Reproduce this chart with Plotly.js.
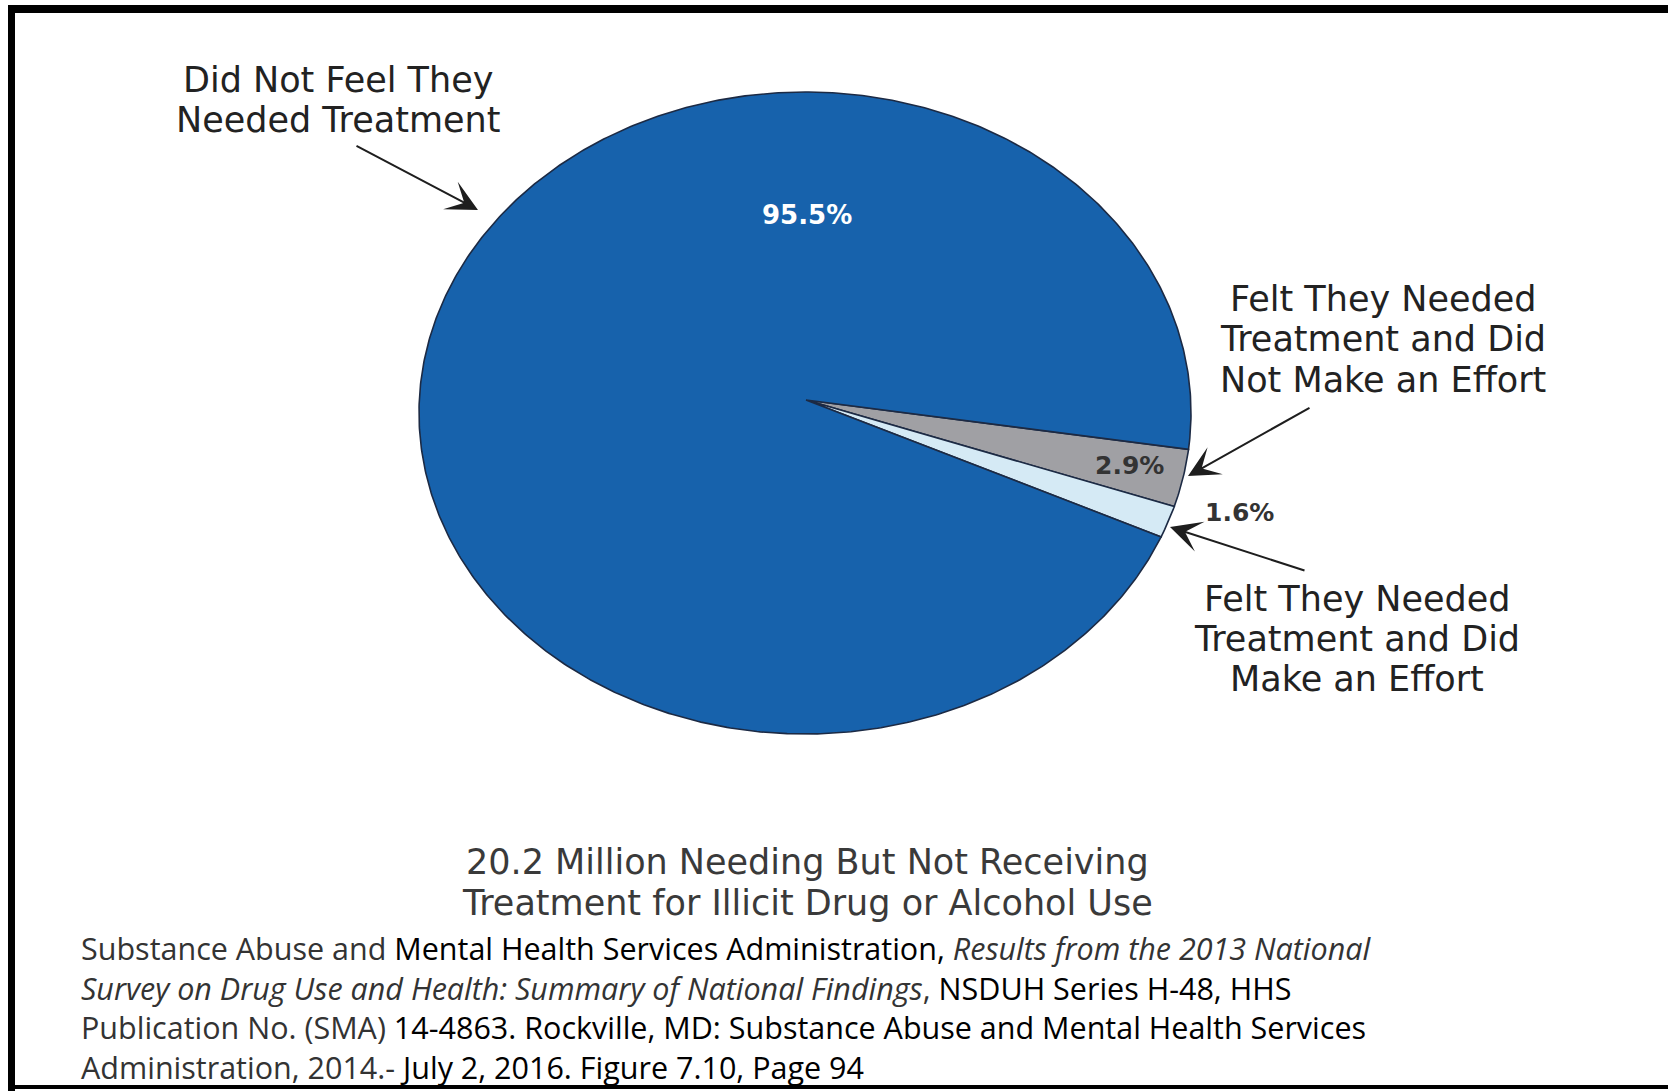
<!DOCTYPE html>
<html>
<head>
<meta charset="utf-8">
<script src="https://cdn.plot.ly/plotly-3.0.1.min.js"></script>
<style>
  html, body { margin: 0; padding: 0; background: #ffffff; }
  #chart { width: 1668px; height: 1091px; }
</style>
</head>
<body>
<div id="chart"></div>
<script>
// ---------------- data ----------------
const categories = [
  "Did Not Feel They Needed Treatment",
  "Felt They Needed Treatment and Did Not Make an Effort",
  "Felt They Needed Treatment and Did Make an Effort"
];
const labelLines = [
  ["Did Not Feel They", "Needed Treatment"],
  ["Felt They Needed", "Treatment and Did", "Not Make an Effort"],
  ["Felt They Needed", "Treatment and Did", "Make an Effort"]
];
const percentValues = [95.5, 2.9, 1.6];
const sliceColors = ["#1762AC", "#A0A0A4", "#D5EAF5"];
const drawOrder = [1, 2, 0];   // clockwise from the right-hand edge

const titleLines = [
  "20.2 Million Needing But Not Receiving",
  "Treatment for Illicit Drug or Alcohol Use"
];
const sourceLines = [
  "Substance Abuse and <span style=\"color:#000\">Mental Health Services Administration,</span> <i>Results from the 2013 National</i>",
  "<i>Survey on Drug Use and Health: Summary of National Findings</i>, <span style=\"color:#000\">NSDUH Series H-48, HHS</span>",
  "Publication No. (SMA) <span style=\"color:#000\">14-4863. Rockville, MD: Substance Abuse and Mental Health Services</span>",
  "Administration, 2014.- <span style=\"color:#000\">July 2, 2016. Figure 7.10, Page 94</span>"
];

// ---------------- layout constants ----------------
const W = 1668, H = 1091;
const CX = 805, CY = 413, RX = 386, RY = 321;   // ellipse of the pie
const AX = 806, AY = 400;                       // apex of the slices
const START_DEG = 6.5;

const total = percentValues.reduce((s, v) => s + v, 0);
const traces = [];
let ang = START_DEG;
drawOrder.forEach(i => {
  const span = percentValues[i] / total * 360;
  const n = Math.max(4, Math.ceil(span / 0.5));
  const xs = [AX], ys = [AY];
  for (let k = 0; k <= n; k++) {
    const t = (ang + span * k / n) * Math.PI / 180;
    xs.push(CX + RX * Math.cos(t));
    ys.push(CY + RY * Math.sin(t));
  }
  xs.push(AX); ys.push(AY);
  traces.push({
    type: "scatter", mode: "lines", x: xs, y: ys,
    fill: "toself", fillcolor: sliceColors[i],
    line: { color: "#1c2a44", width: 1.6 },
    name: categories[i], hoverinfo: "name", showlegend: false
  });
  ang += span;
});

const pctText = v => v.toFixed(1) + "%";
const labelFont = { family: "DejaVu Sans, Arial, sans-serif", size: 35, color: "#222222" };
const arrowBase = {
  xref: "x", yref: "y", axref: "x", ayref: "y", text: "", showarrow: true,
  arrowhead: 3, arrowsize: 2.6, arrowwidth: 2, arrowcolor: "#1e1e1e", standoff: 0
};

const annotations = [];
// category labels, one line each
const labelX = [338, 1383, 1357];
const labelY = [[80, 120], [299, 339, 380], [599, 639, 679]];
labelLines.forEach((lines, i) => {
  lines.forEach((ln, k) => {
    annotations.push({ x: labelX[i], y: labelY[i][k], xref: "x", yref: "y", text: ln,
      showarrow: false, font: labelFont, xanchor: "center", yanchor: "middle" });
  });
});
// percentages
annotations.push(
  { x: 807, y: 215, xref: "x", yref: "y", text: pctText(percentValues[0]), showarrow: false,
    font: { family: "DejaVu Sans, Arial, sans-serif", size: 26, color: "#ffffff", weight: "bold" } },
  { x: 1129, y: 465, xref: "x", yref: "y", text: pctText(percentValues[1]), showarrow: false,
    font: { family: "DejaVu Sans, Arial, sans-serif", size: 25, color: "#333333", weight: "bold" } },
  { x: 1239, y: 512, xref: "x", yref: "y", text: pctText(percentValues[2]), showarrow: false,
    font: { family: "DejaVu Sans, Arial, sans-serif", size: 25, color: "#333333", weight: "bold" } }
);
// arrows
annotations.push(
  Object.assign({ x: 478, y: 210, ax: 355, ay: 145 }, arrowBase),
  Object.assign({ x: 1188, y: 476, ax: 1311, ay: 407 }, arrowBase),
  Object.assign({ x: 1170, y: 527, ax: 1306, ay: 571 }, arrowBase)
);
// chart caption
const titleY = [862, 903];
titleLines.forEach((t, k) => {
  annotations.push({ x: 807, y: titleY[k], xref: "x", yref: "y", text: t, showarrow: false,
    xanchor: "center", yanchor: "middle",
    font: { family: "DejaVu Sans, Arial, sans-serif", size: 35, color: "#3a3a3a" } });
});
// source block (one multi-line annotation)
annotations.push({
  x: 79, y: 1007, xref: "x", yref: "y", xanchor: "left", yanchor: "middle",
  text: sourceLines.join("<br>"), showarrow: false, align: "left",
  font: { family: "Open Sans, Noto Sans, sans-serif", size: 30.5, color: "#333333" }
});

const shapes = [
  { type: "rect", xref: "x", yref: "y", x0: 8, x1: W, y0: 5, y1: 13, fillcolor: "#000", line: { width: 0 }, layer: "below" },
  { type: "rect", xref: "x", yref: "y", x0: 8, x1: 15, y0: 5, y1: H, fillcolor: "#000", line: { width: 0 }, layer: "below" },
  { type: "rect", xref: "x", yref: "y", x0: 8, x1: W, y0: 1085, y1: 1089, fillcolor: "#000", line: { width: 0 }, layer: "below" }
];

const layout = {
  width: W, height: H,
  margin: { l: 0, r: 0, t: 0, b: 0, pad: 0 },
  paper_bgcolor: "#ffffff", plot_bgcolor: "#ffffff",
  xaxis: { range: [0, W], visible: false, fixedrange: true },
  yaxis: { range: [H, 0], visible: false, fixedrange: true },
  showlegend: false,
  annotations: annotations,
  shapes: shapes
};

Plotly.newPlot("chart", traces, layout, { displayModeBar: false, staticPlot: true });
</script>
</body>
</html>
